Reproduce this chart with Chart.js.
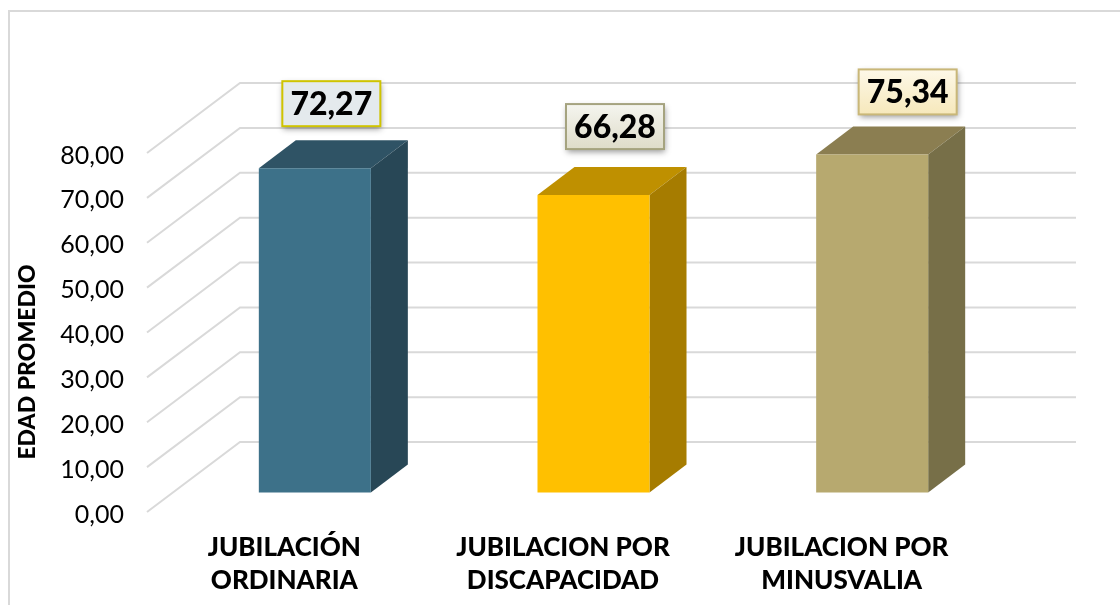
<!DOCTYPE html>
<html><head><meta charset="utf-8">
<style>html,body{margin:0;padding:0;background:#fff;overflow:hidden}canvas{display:block}</style>
<script src="https://cdn.jsdelivr.net/npm/chart.js@4/dist/chart.umd.min.js"></script>
</head><body><canvas id="c" width="1120" height="605"></canvas>
<script>
const categories = [["JUBILACIÓN","ORDINARIA"],["JUBILACION POR","DISCAPACIDAD"],["JUBILACION POR","MINUSVALIA"]];
const values = [72.27, 66.28, 75.34];
const frontColors = ["#3d7189","#ffc000","#b7a96f"];
const topColors = ["#2f5365","#bf9000","#8b7e51"];
const sideColors = ["#284756","#a67c00","#776f48"];
const yTitle = "EDAD PROMEDIO";
const boxBorders = ["#cfc400","#a5a37f","#c9b778"];
const boxTops = ["#e4eaed","#f5f5ef","#fdf8e8"];
const boxBottoms = ["#e4eaed","#dedcc9","#f6e8bb"];
const boxDx = [16.5, 21.5, 35.5];
const boxGap = [42, 46, 40];

const FONT = "Lato, 'Open Sans', sans-serif";
const WALL_X = 93, WALL_Y = 70;     // back wall offset from front plane
const BAR_X = 28.5, BAR_Y = 19.5;   // bar front plane offset
const DEPTH_X = 37, DEPTH_Y = 28;   // bar depth
const fmt = v => v.toFixed(2).replace('.', ',');

const plugin3d = {
  id: 'plugin3d',
  beforeDraw(chart) {
    const c = chart.ctx;
    c.save();
    c.strokeStyle = '#d9d9d9'; c.lineWidth = 2;
    c.beginPath(); c.moveTo(9, 605); c.lineTo(9, 11); c.lineTo(1120, 11); c.stroke();
    const a = chart.chartArea, y = chart.scales.y;
    c.strokeStyle = '#d9d9d9'; c.lineWidth = 2;
    y.ticks.forEach(t => {
      const p = y.getPixelForValue(t.value);
      c.beginPath();
      c.moveTo(a.left, p);
      c.lineTo(a.left + WALL_X, p - WALL_Y);
      c.lineTo(a.right + WALL_X, p - WALL_Y);
      c.stroke();
    });
    c.translate(28, 362);
    c.rotate(-Math.PI / 2);
    c.font = "900 23px " + FONT;
    c.fillStyle = '#000'; c.textAlign = 'center'; c.textBaseline = 'middle';
    c.fillText(yTitle, 0, 0);
    c.restore();
  },
  beforeDatasetsDraw(chart) {
    const c = chart.ctx;
    c.save();
    c.translate(BAR_X, -BAR_Y);
    chart.getDatasetMeta(0).data.forEach((b, i) => {
      const l = b.x - b.width / 2, r = b.x + b.width / 2, t = b.y, bo = b.base;
      c.fillStyle = topColors[i];
      c.beginPath(); c.moveTo(l, t); c.lineTo(l + DEPTH_X, t - DEPTH_Y); c.lineTo(r + DEPTH_X, t - DEPTH_Y); c.lineTo(r, t); c.closePath(); c.fill();
      c.fillStyle = sideColors[i];
      c.beginPath(); c.moveTo(r, t); c.lineTo(r + DEPTH_X, t - DEPTH_Y); c.lineTo(r + DEPTH_X, bo - DEPTH_Y); c.lineTo(r, bo); c.closePath(); c.fill();
    });
  },
  afterDatasetsDraw(chart) {
    const c = chart.ctx;
    c.restore();
    chart.getDatasetMeta(0).data.forEach((b, i) => {
      const cx = b.x + BAR_X + boxDx[i], bottom = b.y - BAR_Y - boxGap[i];
      const w = 98, h = 45, x = cx - w / 2, y = bottom - h;
      c.save();
      const g = c.createLinearGradient(0, y, 0, y + h);
      g.addColorStop(0, boxTops[i]); g.addColorStop(1, boxBottoms[i]);
      c.shadowColor = 'rgba(0,0,0,0.4)'; c.shadowBlur = 6; c.shadowOffsetX = 1; c.shadowOffsetY = 3;
      c.fillStyle = g; c.fillRect(x, y, w, h);
      c.shadowColor = 'transparent';
      c.strokeStyle = boxBorders[i]; c.lineWidth = 2; c.strokeRect(x, y, w, h);
      c.fillStyle = '#000'; c.font = "900 32px " + FONT;
      c.textAlign = 'center'; c.textBaseline = 'middle';
      c.fillText(fmt(values[i]), cx, y + h / 2 + 1);
      c.restore();
    });
  }
};

new Chart(document.getElementById('c'), {
  type: 'bar',
  data: { labels: categories, datasets: [{ data: values, backgroundColor: frontColors, borderWidth: 0, barPercentage: 0.402, categoryPercentage: 1, clip: false }] },
  plugins: [plugin3d],
  options: {
    responsive: false, animation: false,
    layout: { autoPadding: false, padding: { top: 153, right: 137, left: 0, bottom: 0 } },
    plugins: { legend: { display: false }, tooltip: { enabled: false }, title: { display: false } },
    scales: {
      x: {
        grid: { display: false }, border: { display: false },
        ticks: { color: '#000', font: { family: FONT, size: 26, weight: 900, lineHeight: 1.27 }, padding: 11, labelOffset: -2, maxRotation: 0, autoSkip: false },
        afterFit(s) { s.height = 93; }
      },
      y: {
        min: 0, max: 80,
        grid: { display: false }, border: { display: false },
        ticks: { stepSize: 10, color: '#000', font: { family: FONT, size: 25 }, padding: 15, labelOffset: 2.5, callback: v => fmt(v) },
        afterFit(s) { s.width = 147; }
      }
    }
  }
});
</script></body></html>
